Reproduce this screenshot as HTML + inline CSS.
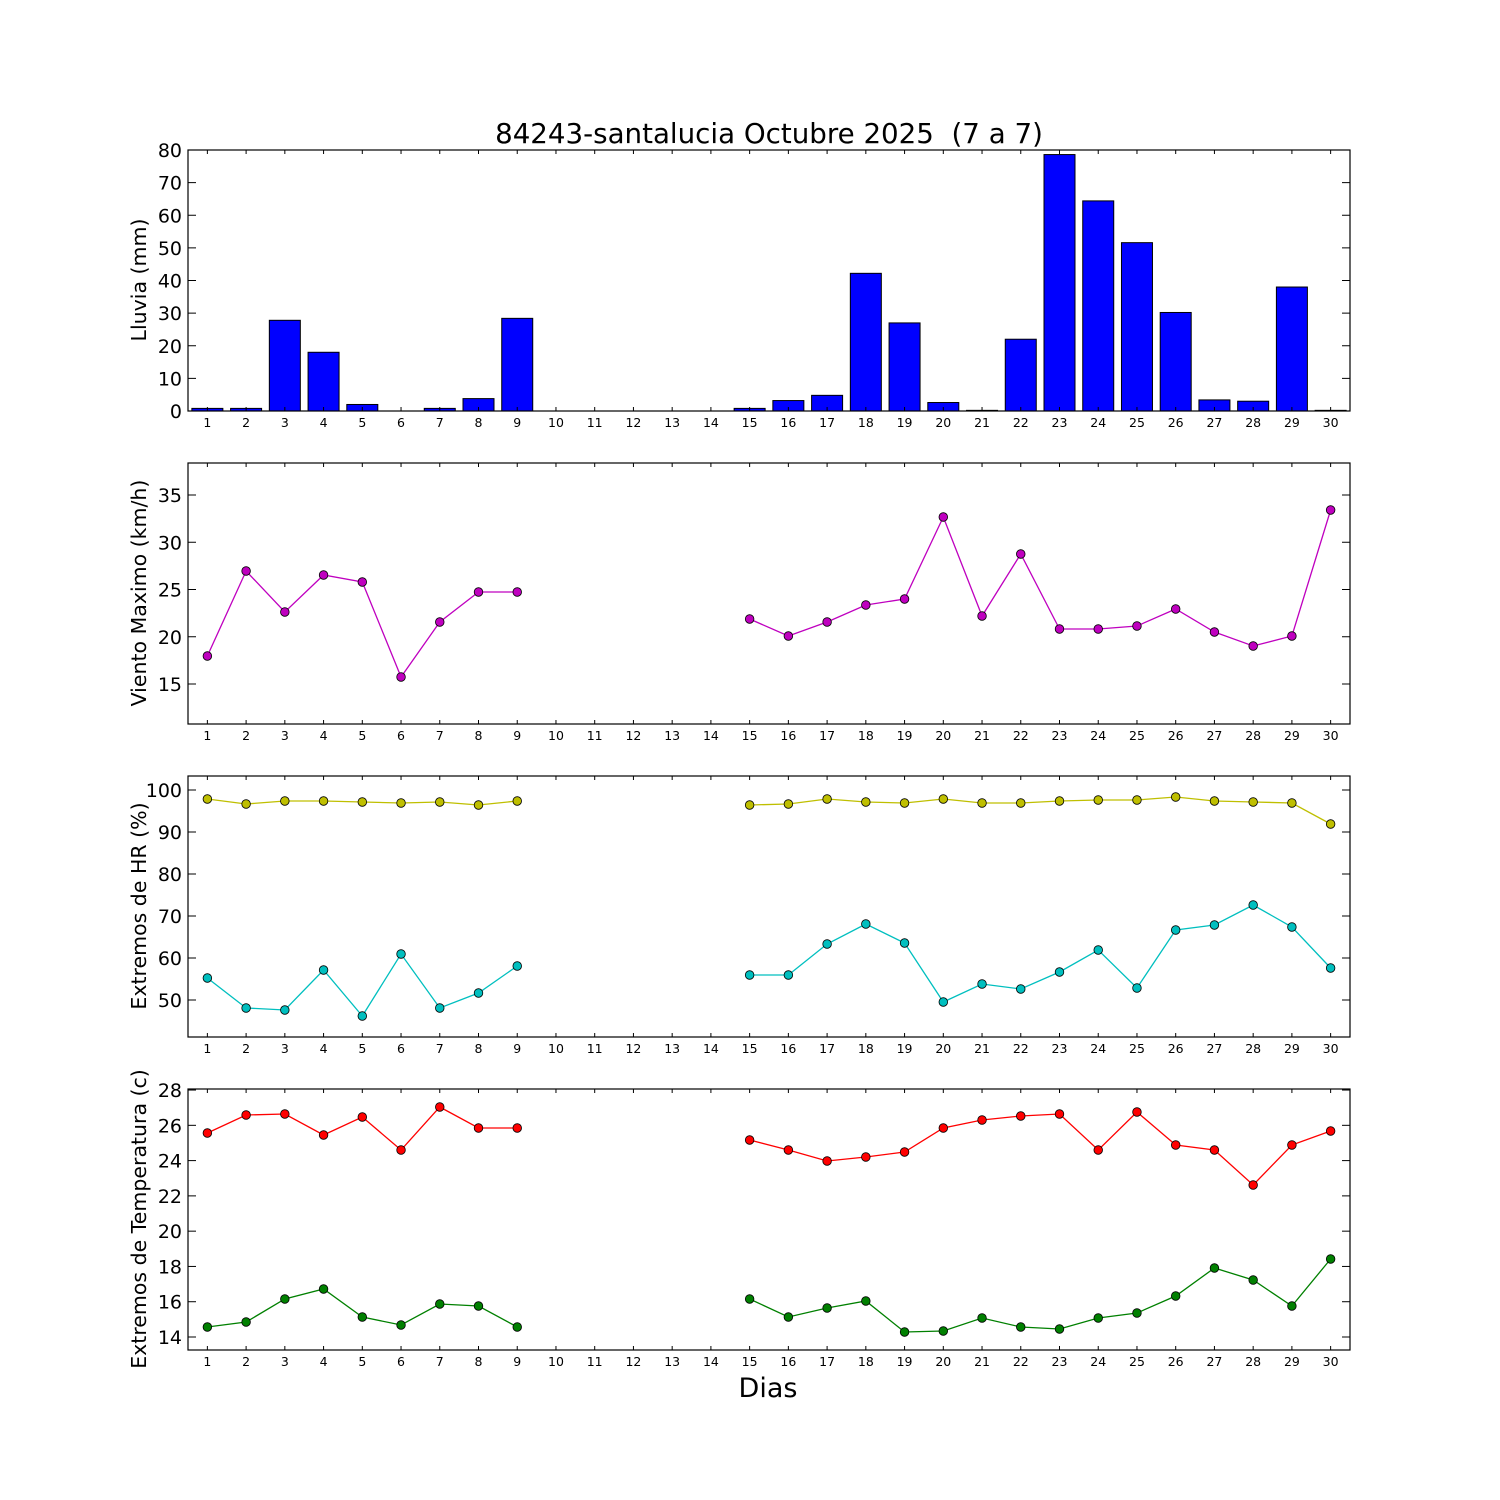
<!DOCTYPE html>
<html><head><meta charset="utf-8"><style>
html,body{margin:0;padding:0;background:#fff;}
svg{display:block;font-family:"DejaVu Sans","Liberation Sans",sans-serif;}
</style></head><body>
<svg id="s" width="1500" height="1500" xmlns="http://www.w3.org/2000/svg"></svg>
<script>
const s=document.getElementById('s');let h='';
const L=188,R=1350,W=R-L;
const X=d=>L+(d-0.5)*W/30;
const panels=[[150,411],[463,724],[776,1037],[1089,1350]];
const days=[1,2,3,4,5,6,7,8,9,10,11,12,13,14,15,16,17,18,19,20,21,22,23,24,25,26,27,28,29,30];
h+='<rect width="1500" height="1500" fill="#fff"/>';
h+='<text x="769" y="143" font-size="27.7" text-anchor="middle" style="white-space:pre">84243-santalucia Octubre 2025&#160; (7 a 7)</text>';
const rain={1:0.8,2:0.8,3:27.8,4:18,5:2,6:0,7:0.8,8:3.8,9:28.4,10:0,11:0,12:0,13:0,14:0,15:0.8,16:3.2,17:4.8,18:42.2,19:27,20:2.6,21:0.2,22:22,23:78.6,24:64.4,25:51.6,26:30.2,27:3.4,28:3,29:38,30:0.2};
const y1=v=>411-v*(261/80);
for(const d in rain){const x=X(+d)-15.5,v=rain[d];h+=`<rect x="${x}" y="${y1(v)}" width="31" height="${411-y1(v)}" fill="#0000ff" stroke="#000" stroke-width="1"/>`;}
function yticks(p,vals,f){const[t,b]=panels[p];for(const v of vals){const y=f(v);h+=`<line x1="${L}" x2="${L+8}" y1="${y}" y2="${y}" stroke="#000"/><line x1="${R-8}" x2="${R}" y1="${y}" y2="${y}" stroke="#000"/><text x="${L-6}" y="${y+7}" font-size="19" text-anchor="end">${v}</text>`;}}
yticks(0,[0,10,20,30,40,50,60,70,80],y1);
yticks(1,[15,20,25,30,35],v=>684-(v-15)*9.45);
yticks(2,[50,60,70,80,90,100],v=>1000-(v-50)*4.2);
yticks(3,[14,16,18,20,22,24,26,28],v=>1337-(v-14)*17.64);
panels.forEach(([t,b],i)=>{
 h+=`<rect x="${L}" y="${t}" width="${W}" height="${b-t}" fill="none" stroke="#000" stroke-width="1.2"/>`;
 for(const d of days){const x=X(d);h+=`<line x1="${x}" x2="${x}" y1="${b}" y2="${b-4}" stroke="#000"/><line x1="${x}" x2="${x}" y1="${t}" y2="${t+4}" stroke="#000"/><text x="${x}" y="${b+16}" font-size="12.5" text-anchor="middle">${d}</text>`;}
});
function series(pts,col){const segs=[[],[]];for(const d in pts){(+d<=9?segs[0]:segs[1]).push([X(+d),pts[d]]);}
 for(const sg of segs){h+=`<polyline points="${sg.map(p=>p.join(',')).join(' ')}" fill="none" stroke="${col}" stroke-width="1.3"/>`;for(const p of sg)h+=`<circle cx="${p[0]}" cy="${p[1]}" r="4.3" fill="${col}" stroke="#000" stroke-width="0.8"/>`;}}
series({1:656,2:571,3:612,4:575,5:582,6:677,7:622,8:592,9:592,15:619,16:636,17:622,18:605,19:599,20:517,21:616,22:554,23:629,24:629,25:626,26:609,27:632,28:646,29:636,30:510},'#bf00bf');
series({1:799,2:804,3:801,4:801,5:802,6:803,7:802,8:805,9:801,15:805,16:804,17:799,18:802,19:803,20:799,21:803,22:803,23:801,24:800,25:800,26:797,27:801,28:802,29:803,30:824},'#bfbf00');
series({1:978,2:1008,3:1010,4:970,5:1016,6:954,7:1008,8:993,9:966,15:975,16:975,17:944,18:924,19:943,20:1002,21:984,22:989,23:972,24:950,25:988,26:930,27:925,28:905,29:927,30:968},'#00bfbf');
series({1:1133,2:1115,3:1114,4:1135,5:1117,6:1150,7:1107,8:1128,9:1128,15:1140,16:1150,17:1161,18:1157,19:1152,20:1128,21:1120,22:1116,23:1114,24:1150,25:1112,26:1145,27:1150,28:1185,29:1145,30:1131},'#ff0000');
series({1:1327,2:1322,3:1299,4:1289,5:1317,6:1325,7:1304,8:1306,9:1327,15:1299,16:1317,17:1308,18:1301,19:1332,20:1331,21:1318,22:1327,23:1329,24:1318,25:1313,26:1296,27:1268,28:1280,29:1306,30:1259},'#008000');
const lab=[['Lluvia (mm)',280],['Viento Maximo (km/h)',593],['Extremos de HR (%)',906],['Extremos de Temperatura (c)',1219]];
for(const[t,y] of lab)h+=`<text transform="translate(146,${y}) rotate(-90)" font-size="20.5" text-anchor="middle">${t}</text>`;
h+='<text x="768" y="1397" font-size="27" text-anchor="middle">Dias</text>';
s.innerHTML=h;
</script>
</body></html>
